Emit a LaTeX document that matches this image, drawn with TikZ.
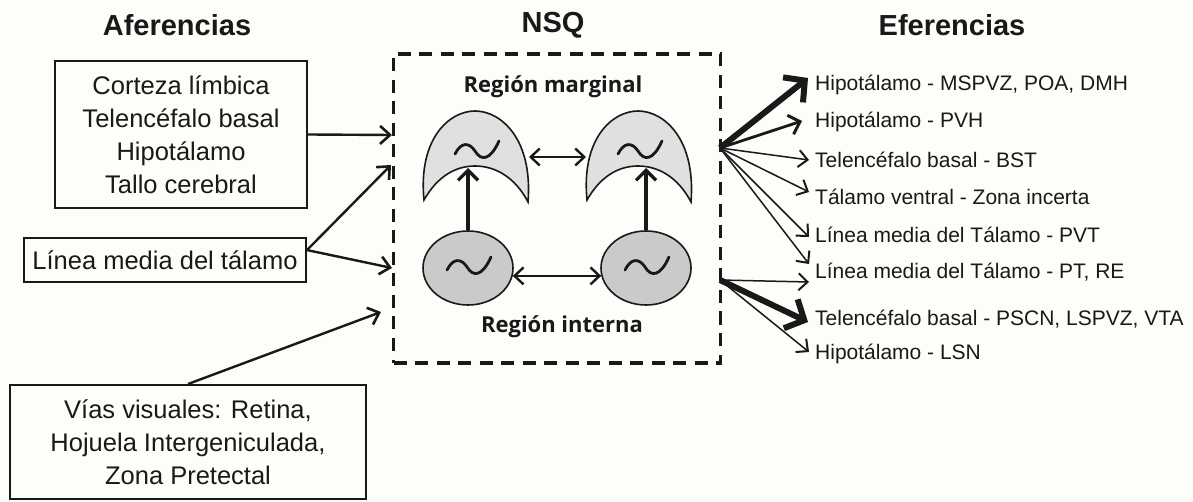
\documentclass[tikz,border=0pt]{standalone}
\usepackage{fontspec}
\setmainfont{Liberation Sans}
\newfontfamily\lblfont{Open Sans}
\usetikzlibrary{arrows.meta,calc,shapes.geometric}
\definecolor{ink}{RGB}{25,25,25}
\definecolor{bgc}{RGB}{253,253,250}
\definecolor{lightfill}{RGB}{224,224,224}
\definecolor{darkfill}{RGB}{202,202,202}
\begin{document}
\begin{tikzpicture}[x=1pt,y=-1pt,
  title/.style={font=\fontsize{29}{29}\selectfont\bfseries, text=ink},
  affbox/.style={draw=ink, line width=2pt, align=center, text=ink,
    font=\fontsize{25.5}{33}\selectfont, inner sep=0pt},
  efftext/.style={anchor=west, inner sep=0pt, text=ink,
    font=\fontsize{21}{21}\selectfont},
  reglabel/.style={text=ink, font=\lblfont\bfseries\fontsize{22}{22}\selectfont},
  nsqbox/.style={draw=ink, line width=3.5pt, dash pattern=on 13pt off 8.5pt,
    minimum width=327pt, minimum height=309pt, inner sep=0pt},
  cell/.style={ellipse, draw=ink, line width=1.6pt, fill=darkfill,
    minimum width=90pt, minimum height=74pt, inner sep=0pt},
  thinarrow/.style={draw=ink, line width=1.5pt, -{Straight Barb[length=9pt,width=17pt,line width=2pt]}},
  medarrow/.style={draw=ink, line width=2.8pt, -{Straight Barb[length=10pt,width=20pt,line width=3pt]}},
  bigarrow/.style={draw=ink, line width=6pt, -{Straight Barb[length=15pt,width=32pt,line width=6pt]}},
  affarrow/.style={draw=ink, line width=2.4pt, -{Straight Barb[length=10pt,width=18pt,line width=2.6pt]}},
  intarrow/.style={draw=ink, line width=3.4pt, -{Straight Barb[length=10pt,width=20pt,line width=3.2pt]}},
  dblarrow/.style={draw=ink, line width=2.3pt, {Straight Barb[length=9pt,width=17pt,line width=2.4pt]}-{Straight Barb[length=9pt,width=17pt,line width=2.4pt]}},
  tilde/.pic={\draw[ink, line width=2.8pt, line cap=round]
     (-22,4) .. controls (-16,-8) and (-8,-8) .. (-2,1)
             .. controls (4,11) and (13,11) .. (22,-9);},
  crescent/.pic={\draw[ink, line width=1.6pt, fill=lightfill]
     (-51,89) .. controls (-57,28) and (-26,0) .. (0,0)
              .. controls (26,0) and (58,28) .. (53,91)
              .. controls (40,66) and (20,55) .. (0,55)
              .. controls (-20,55) and (-38,66) .. (-51,89) -- cycle;}
]
\fill[bgc] (0,0) rectangle (1193,502);
\useasboundingbox (0,0) rectangle (1193,502);

% titles
\node[title] (ta) at (177,25) {Aferencias};
\node[title] (tn) at (553,25) {NSQ};
\node[title] (te) at (952,25) {Eferencias};

% afferent boxes
\node[affbox, minimum width=252pt, minimum height=147pt] (b1) at (181,134.5)
  {Corteza límbica\\Telencéfalo basal\\Hipotálamo\\Tallo cerebral};
\node[affbox, minimum width=282pt, minimum height=44pt] (b2) at (165,260)
  {Línea media del tálamo};
\node[affbox, minimum width=356pt, minimum height=114pt] (b3) at (188,442)
  {Vías visuales: Retina,\\Hojuela Intergeniculada,\\Zona Pretectal};

% NSQ box
\node[nsqbox] (nsq) at (557,208.5) {};
\node[reglabel] (rm) at (553,87) {Región marginal};
\node[reglabel] (ri) at (562,327) {Región interna};

% crescents (marginal region)
\pic at (475,111) {crescent};
\pic at (638,111) {crescent};
\pic at (477,150) {tilde};
\pic at (640,150) {tilde};
\coordinate (cLin) at (468,168);
\coordinate (cRin) at (646,168);
\coordinate (cLr) at (529,157);
\coordinate (cRl) at (586,157);

% internal region cells
\node[cell] (eL) at (468,268) {};
\node[cell] (eR) at (646,268) {};
\pic at (469,266) {tilde};
\pic at (647,266) {tilde};

% internal arrows
\draw[intarrow] (eL.north) -- (cLin);
\draw[intarrow] (eR.north) -- (cRin);
\draw[dblarrow] (cLr) -- (cRl);
\draw[dblarrow] (eL.-10) -- (eR.190);

% afferent arrows
\coordinate (in1) at (392,135);
\coordinate (in2) at (391,165);
\coordinate (in3) at (392,268);
\coordinate (in4) at (381,312);
\draw[affarrow] (b1.east) -- (in1);
\draw[affarrow] (b2.4) -- (in2);
\draw[affarrow] (b2.4) -- (in3);
\draw[affarrow] (b3.north) -- (in4);

% efferent targets
\node[efftext] (t1) at (815,85)  {Hipotálamo - MSPVZ, POA, DMH};
\node[efftext] (t2) at (815,122) {Hipotálamo - PVH};
\node[efftext] (t3) at (815,160) {Telencéfalo basal - BST};
\node[efftext] (t4) at (815,197) {Tálamo ventral - Zona incerta};
\node[efftext] (t5) at (815,235) {Línea media del Tálamo - PVT};
\node[efftext] (t6) at (815,272) {Línea media del Tálamo - PT, RE};
\node[efftext] (t7) at (815,319) {Telencéfalo basal - PSCN, LSPVZ, VTA};
\node[efftext] (t8) at (815,354) {Hipotálamo - LSN};

\coordinate (o1) at (720,148);
\coordinate (o2) at (720,280);

\draw[bigarrow] (o1) -- ($(t1.west)+(-7,-7)$);
\draw[medarrow] (o1) -- ($(t2.west)+(-13,-1)$);
\draw[thinarrow] (o1) -- ($(t3.west)+(-6,0)$);
\draw[thinarrow] (o1) -- ($(t4.west)+(-6,-5)$);
\draw[thinarrow] (o1) -- ($(t5.west)+(-6,2)$);
\draw[thinarrow] (o1) -- ($(t6.west)+(-6,-8)$);
\draw[thinarrow] (o2) -- ($(t6.west)+(-6,10)$);
\draw[bigarrow] (o2) -- ($(t7.west)+(-7,3)$);
\draw[thinarrow] (o2) -- ($(t8.west)+(-6,-2)$);
\end{tikzpicture}
\end{document}
